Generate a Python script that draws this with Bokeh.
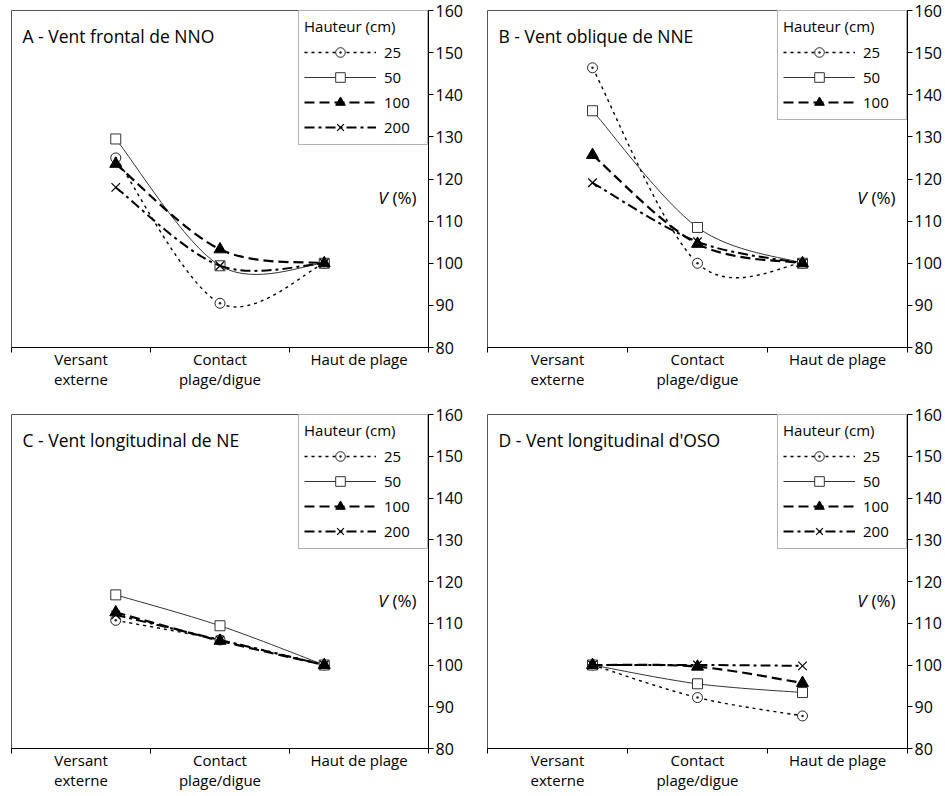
from bokeh.plotting import figure
from bokeh.models import FixedTicker, Legend, LegendItem, Label, ColumnDataSource, Range1d
from bokeh.layouts import column, row
from bokeh.embed import file_html
from bokeh.resources import INLINE

# ---------------- data ----------------
categories = ["Versant\nexterne", "Contact\nplage/digue", "Haut de plage"]
category_pos = [0.5, 1.5, 2.5]
category_edges = [0, 1, 2, 3]
station_x = [0.75, 1.5, 2.25]
y_ticks = [80, 90, 100, 110, 120, 130, 140, 150, 160]
heights = ["25", "50", "100", "200"]

A_25 = [125.0, 90.5, 100.0]
A_50 = [129.5, 99.4, 100.0]
A_100 = [123.6, 103.3, 100.0]
A_200 = [118.0, 99.4, 100.0]

B_25 = [146.4, 100.0, 100.0]
B_50 = [136.2, 108.5, 100.0]
B_100 = [125.7, 104.6, 100.0]
B_200 = [119.1, 105.1, 100.0]

C_25 = [110.7, 106.0, 100.0]
C_50 = [116.8, 109.4, 100.0]
C_100 = [112.6, 105.8, 100.0]
C_200 = [112.0, 106.0, 100.0]

D_25 = [100.0, 92.2, 87.8]
D_50 = [100.0, 95.5, 93.4]
D_100 = [100.0, 99.6, 95.7]
D_200 = [100.0, 100.0, 99.8]

titles = ["A - Vent frontal de NNO", "B - Vent oblique de NNE",
          "C - Vent longitudinal de NE", "D - Vent longitudinal d'OSO"]

FONT = "Open Sans"

styles = {
    "25": dict(line_color="black", line_width=1.4, line_dash="3 4",
               marker="circle_dot", size=10, fill="white", mline="#222", mwidth=1),
    "50": dict(line_color="#333", line_width=1.0, line_dash="solid",
               marker="square", size=10, fill="white", mline="#333", mwidth=1),
    "100": dict(line_color="black", line_width=2.2, line_dash="10 5",
                marker="triangle", size=12, fill="black", mline="black", mwidth=1),
    "200": dict(line_color="black", line_width=2.0, line_dash="10 4 3 4",
                marker="x", size=12, fill="black", mline="black", mwidth=1.2),
}


def smooth_source(xs, ys):
    """Bezier segments (Excel-like smoothed line) through the data points."""
    n = len(xs)
    d = {k: [] for k in ("x0", "y0", "x1", "y1", "cx0", "cy0", "cx1", "cy1")}
    for i in range(n - 1):
        a = max(i - 1, 0)
        b = min(i + 2, n - 1)
        d["x0"].append(xs[i]); d["y0"].append(ys[i])
        d["x1"].append(xs[i + 1]); d["y1"].append(ys[i + 1])
        d["cx0"].append(xs[i] + (xs[i + 1] - xs[a]) / 6.0)
        d["cy0"].append(ys[i] + (ys[i + 1] - ys[a]) / 6.0)
        d["cx1"].append(xs[i + 1] - (xs[b] - xs[i]) / 6.0)
        d["cy1"].append(ys[i + 1] - (ys[b] - ys[i]) / 6.0)
    return ColumnDataSource(d)


def make_panel(title, series, legend_keys, fw, fh, bl, br, bt, bb):
    p = figure(frame_width=fw, frame_height=fh,
               x_range=Range1d(0, 3), y_range=Range1d(80, 160),
               y_axis_location="right", output_backend="svg",
               toolbar_location=None,
               min_border_left=bl, min_border_right=br,
               min_border_top=bt, min_border_bottom=bb)
    p.xgrid.visible = False
    p.ygrid.visible = False
    p.background_fill_color = "white"
    p.border_fill_color = "white"
    p.outline_line_color = "#555"
    p.outline_line_width = 1

    # x axis: category labels centred, ticks at the boundaries
    xa = p.xaxis[0]
    xa.ticker = FixedTicker(ticks=category_pos, minor_ticks=category_edges)
    xa.major_label_overrides = {pos: lab for pos, lab in zip(category_pos, categories)}
    xa.major_tick_out = 0
    xa.major_tick_in = 0
    xa.minor_tick_out = 5
    xa.minor_tick_in = 0
    xa.minor_tick_line_color = "black"
    xa.axis_line_color = "black"
    xa.major_label_text_font = FONT
    xa.major_label_text_font_size = "15px"
    xa.major_label_text_color = "black"
    xa.major_label_standoff = -4
    xa.major_label_text_line_height = 1.0

    ya = p.yaxis[0]
    ya.ticker = FixedTicker(ticks=y_ticks, minor_ticks=[])
    ya.major_tick_in = 0
    ya.major_tick_out = 5
    ya.major_tick_line_color = "black"
    ya.axis_line_color = "black"
    ya.major_label_text_font = FONT
    ya.major_label_text_font_size = "16px"
    ya.major_label_text_color = "black"
    ya.major_label_standoff = 2

    items = []
    for key, vals in zip(heights, series):
        st = styles[key]
        src = smooth_source(station_x, vals)
        rl = p.bezier(x0="x0", y0="y0", x1="x1", y1="y1",
                      cx0="cx0", cy0="cy0", cx1="cx1", cy1="cy1", source=src,
                      line_color=st["line_color"], line_width=st["line_width"],
                      line_dash=st["line_dash"])
        rm = p.scatter(x=station_x, y=vals, marker=st["marker"], size=st["size"],
                       fill_color=st["fill"], line_color=st["mline"],
                       line_width=st["mwidth"])
        if key in legend_keys:
            items.append(LegendItem(label=key, renderers=[rl, rm]))

    legend = Legend(items=items, location="top_right", margin=0, padding=5,
                    title="Hauteur (cm)", title_text_font=FONT,
                    title_text_font_size="15px", title_text_font_style="normal",
                    title_text_color="black", title_standoff=4,
                    label_text_font=FONT, label_text_font_size="15px",
                    label_text_color="black",
                    glyph_width=72, glyph_height=24, label_height=20,
                    label_standoff=8, label_width=38, spacing=1,
                    border_line_color="#666", border_line_width=1,
                    background_fill_color="white", background_fill_alpha=1.0)
    p.add_layout(legend)

    p.add_layout(Label(x=0, y=160, x_offset=11, y_offset=-25, text=title,
                       text_font=FONT, text_font_size="17.5px",
                       text_baseline="alphabetic", text_color="black"))
    p.add_layout(Label(x=3, y=115.5, x_offset=-12, text="(%)",
                       text_font=FONT, text_font_size="17px", text_color="black",
                       text_align="right", text_baseline="middle"))
    p.add_layout(Label(x=3, y=115.5, x_offset=-41, text="V",
                       text_font=FONT, text_font_size="17px", text_color="black",
                       text_font_style="italic",
                       text_align="right", text_baseline="middle"))
    return p


pA = make_panel(titles[0], [A_25, A_50, A_100, A_200], heights,
                417, 337, 11, 48, 10, 48)
pB = make_panel(titles[1], [B_25, B_50, B_100, B_200], heights[:3],
                420, 337, 11, 36, 10, 48)
pC = make_panel(titles[2], [C_25, C_50, C_100, C_200], heights,
                417, 334, 11, 48, 19, 46)
pD = make_panel(titles[3], [D_25, D_50, D_100, D_200], heights,
                420, 334, 11, 36, 19, 46)

layout = column(row(pA, pB), row(pC, pD))

open("out.html", "w").write(file_html(layout, INLINE))
